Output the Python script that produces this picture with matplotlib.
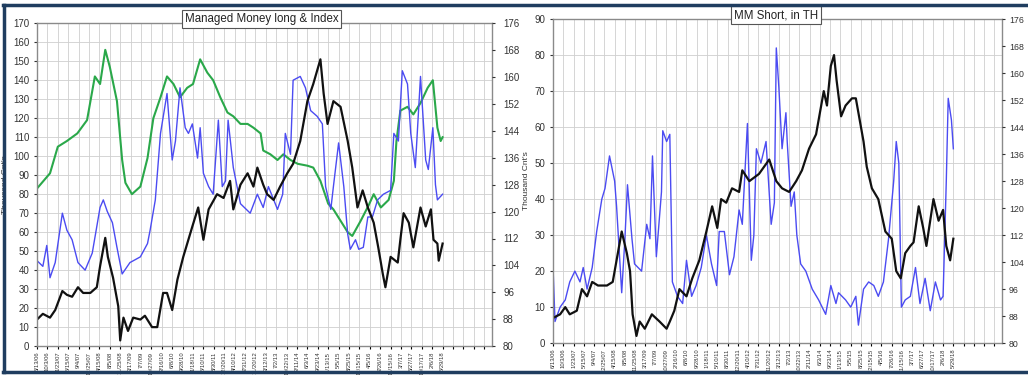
import numpy as np
import matplotlib.pyplot as plt
from matplotlib.lines import Line2D

plt.rcParams["font.family"] = ["Liberation Sans", "DejaVu Sans"]

# x positions are weeks since 6/13/06
date_labels = [
    "6/13/06", "10/3/06", "1/23/07", "5/15/07", "9/4/07", "12/25/07", "4/15/08",
    "8/5/08", "11/25/08", "3/17/09", "7/7/09", "10/27/09", "2/16/10", "6/8/10",
    "9/28/10", "1/18/11", "5/10/11", "8/30/11", "12/20/11", "4/10/12", "7/31/12",
    "11/20/12", "3/12/13", "7/2/13", "10/22/13", "2/11/14", "6/3/14", "9/23/14",
    "1/13/15", "5/5/15", "8/25/15", "12/15/15", "4/5/16", "7/26/16", "11/15/16",
    "3/7/17", "6/27/17", "10/17/17", "2/6/18", "5/29/18",
]

# --- Managed Money long & Index ---
index_wk = [0, 20, 32, 46, 62, 77, 89, 97, 105, 112, 123, 131, 136, 146, 159, 170,
            179, 190, 200, 210, 220, 231, 240, 251, 262, 271, 282, 293, 302, 313,
            324, 333, 344, 348, 359, 370, 379, 390, 401, 416, 425, 436, 441, 448,
            456, 467, 478, 485, 498, 510, 518, 529, 541, 549, 553, 559, 570, 579,
            590, 601, 609, 616, 621, 624]
index_val = [83, 91, 105, 108, 112, 119, 142, 138, 156, 147, 129, 98, 86, 80, 84, 99,
             120, 131, 142, 138, 131, 136, 138, 151, 144, 140, 131, 123, 121, 117,
             117, 115, 112, 103, 101, 98, 101, 98, 96, 95, 94, 87, 82, 75,
             72, 66, 60, 58, 66, 74, 80, 73, 77, 87, 108, 124, 126, 122,
             128, 136, 140, 115, 108, 110]

long_b_wk = [0, 9, 15, 20, 28, 39, 46, 54, 63, 74, 85, 97, 102, 108, 116, 123, 131,
             143, 159, 170, 174, 182, 190, 200, 208, 213, 220, 228, 233, 239, 247,
             251, 256, 264, 271, 279, 285, 290, 294, 302, 313, 328, 339, 348, 356,
             370, 378, 382, 390, 394, 405, 413, 421, 431, 439, 444, 452, 456, 464,
             472, 478, 482, 490, 495, 502, 509, 516, 524, 533, 544, 549, 556, 562,
             570, 575, 582, 590, 598, 602, 609, 613, 616, 624]
long_b_val = [45, 42, 53, 36, 44, 70, 61, 56, 44, 40, 49, 73, 77, 71, 65, 52, 38,
              44, 47, 54, 61, 77, 112, 133, 98, 108, 136, 115, 112, 117, 99,
              115, 91, 84, 80, 119, 84, 87, 119, 94, 75, 70, 80, 73, 84,
              72, 80, 112, 101, 140, 142, 136, 124, 121, 117, 84, 72, 84, 107,
              84, 59, 51, 56, 51, 52, 68, 68, 77, 80, 82, 112, 108, 145,
              138, 112, 94, 142, 98, 93, 115, 85, 77, 80]

long_k_wk = [0, 9, 20, 28, 39, 46, 54, 63, 71, 82, 92, 97, 105, 109, 117, 125, 128,
             133, 140, 148, 159, 166, 177, 185, 194, 200, 208, 216, 225, 239, 248,
             256, 264, 277, 287, 297, 302, 313, 324, 333, 339, 348, 354, 364, 374,
             385, 394, 405, 416, 425, 436, 441, 447, 456, 467, 478, 485, 493, 501,
             509, 518, 525, 532, 536, 544, 555, 559, 564, 572, 579, 590, 598, 606,
             610, 616, 618, 624]
long_k_val = [14, 17, 15, 19, 29, 27, 26, 31, 28, 28, 31, 42, 57, 47, 36, 21, 3,
              15, 8, 15, 14, 16, 10, 10, 28, 28, 19, 35, 47, 63, 73,
              56, 72, 80, 78, 87, 72, 85, 91, 84, 94, 85, 80, 77, 84,
              91, 96, 108, 129, 138, 151, 133, 117, 129, 126, 108, 94, 73, 82,
              73, 65, 52, 38, 31, 47, 44, 56, 70, 65, 52, 73, 63, 72,
              56, 54, 45, 54]

# --- MM Short ---
short_b_wk = [0, 3, 11, 19, 26, 34, 42, 47, 53, 61, 68, 76, 81, 88, 96, 99, 107,
              112, 116, 123, 127, 138, 146, 151, 155, 161, 169, 171, 177, 182, 186,
              194, 202, 208, 216, 223, 231, 239, 247, 255, 259, 267, 275, 282, 290,
              295, 303, 309, 313, 317, 324, 332, 340, 345, 348, 352, 357, 363, 365,
              371, 376, 380, 386, 394, 404, 414, 425, 433, 441, 445, 456, 464, 472,
              476, 484, 492, 500, 507, 515, 523, 531, 535, 539, 543, 549, 557, 565,
              572, 580, 588, 596, 604, 608, 613, 616, 621, 624]
short_b_val = [21, 6, 10, 12, 17, 20, 17, 21, 15, 21, 31, 40, 43, 52, 45, 38, 14,
               29, 44, 29, 22, 20, 33, 29, 52, 24, 42, 59, 56, 58, 17,
               13, 11, 23, 13, 16, 21, 30, 22, 16, 31, 31, 19, 24, 37,
               33, 61, 23, 30, 54, 50, 56, 33, 39, 82, 71, 54, 64, 56,
               38, 42, 30, 22, 20, 15, 12, 8, 16, 11, 14, 12, 10, 13,
               5, 15, 17, 16, 13, 17, 29, 45, 56, 50, 10, 12, 13, 21,
               11, 18, 9, 17, 12, 13, 45, 68, 62, 54]

short_k_wk = [0, 11, 19, 26, 37, 45, 53, 61, 70, 84, 93, 101, 107, 115, 120, 124,
              130, 135, 143, 154, 166, 177, 182, 189, 197, 208, 217, 228, 239, 248,
              256, 262, 270, 279, 290, 295, 306, 321, 337, 348, 357, 368, 379, 388,
              399, 410, 417, 422, 427, 433, 438, 442, 449, 456, 466, 472, 476, 484,
              489, 497, 507, 518, 528, 535, 542, 549, 557, 562, 570, 577, 582, 593,
              601, 608, 613, 619, 624]
short_k_val = [7, 8, 10, 8, 9, 15, 13, 17, 16, 16, 17, 25, 31, 25, 20, 8,
               2, 6, 4, 8, 6, 4, 6, 9, 15, 13, 18, 23, 31, 38,
               32, 40, 39, 43, 42, 48, 45, 47, 51, 45, 43, 42, 45, 48,
               54, 58, 65, 70, 66, 77, 80, 73, 63, 66, 68, 68, 64, 56,
               49, 43, 40, 31, 29, 20, 18, 25, 27, 28, 38, 32, 27, 40,
               34, 37, 27, 23, 29]

BLACK = "#111111"
BLUE = "#4b4bf2"
GREEN = "#2aa84a"
GRID = "#cfcfcf"
FRAME = "#8a8a8a"


def setup_panel(ax, title, ymax, title_x, right_pad, right_size):
    ax.set_xlim(0, 700)
    ax.set_ylim(0, ymax)
    ticks = np.arange(0, 700, 16)
    ax.set_xticks(ticks)
    labels = date_labels + [""] * (len(ticks) - len(date_labels))
    ax.set_xticklabels(labels, rotation=90, fontsize=4.2, color="#333333")
    ax.set_yticks(np.arange(0, ymax + 1, 10))
    ax.tick_params(axis="y", labelsize=7, colors="#333333", length=2)
    ax.tick_params(axis="x", length=2, pad=2)
    ax.grid(True, color=GRID, linewidth=0.6)
    ax.set_axisbelow(True)
    for s in ax.spines.values():
        s.set_color(FRAME)
        s.set_linewidth(1.0)
    ax.set_ylabel("Thousand Cnt's", fontsize=6, color="#333333", labelpad=3)
    ax.text(title_x, 1.012, title, transform=ax.transAxes, ha="center",
            va="center", fontsize=8.3, color="#222222",
            bbox=dict(boxstyle="square,pad=0.25", fc="white", ec="#555555", lw=0.8))

    twin = ax.twinx()
    twin.set_ylim(80, 176)
    twin.set_yticks(np.arange(80, 177, 8))
    twin.tick_params(axis="y", labelsize=right_size, colors="#333333", length=2,
                     pad=right_pad)
    for s in twin.spines.values():
        s.set_visible(False)
    return twin


fig = plt.figure(figsize=(10.28, 3.75), dpi=100)

ax1 = fig.add_axes([0.036, 0.077, 0.4426, 0.861])
setup_panel(ax1, "Managed Money long & Index", 170, 0.494, 6, 7)
ax1.plot(index_wk, index_val, color=GREEN, lw=1.5)
ax1.plot(long_b_wk, long_b_val, color=BLUE, lw=1.0)
ax1.plot(long_k_wk, long_k_val, color=BLACK, lw=1.6)

ax2 = fig.add_axes([0.538, 0.085, 0.4368, 0.864])
# right-hand scale sits close to the edge here, so keep it compact
setup_panel(ax2, "MM Short, in TH", 90, 0.497, 3, 6.3)
ax2.plot(short_b_wk, short_b_val, color=BLUE, lw=1.0)
ax2.plot(short_k_wk, short_k_val, color=BLACK, lw=1.6)

# dark outer frame along top, left and bottom edges
border = "#1f3d5f"
fig.add_artist(Line2D([0.003, 1.0], [0.988, 0.988], color=border, lw=2.5,
                      transform=fig.transFigure))
fig.add_artist(Line2D([0.004, 0.004], [0.008, 0.988], color=border, lw=2.5,
                      transform=fig.transFigure))
fig.add_artist(Line2D([0.003, 1.0], [0.008, 0.008], color=border, lw=2.5,
                      transform=fig.transFigure))

fig.savefig("out.png", dpi=100)
